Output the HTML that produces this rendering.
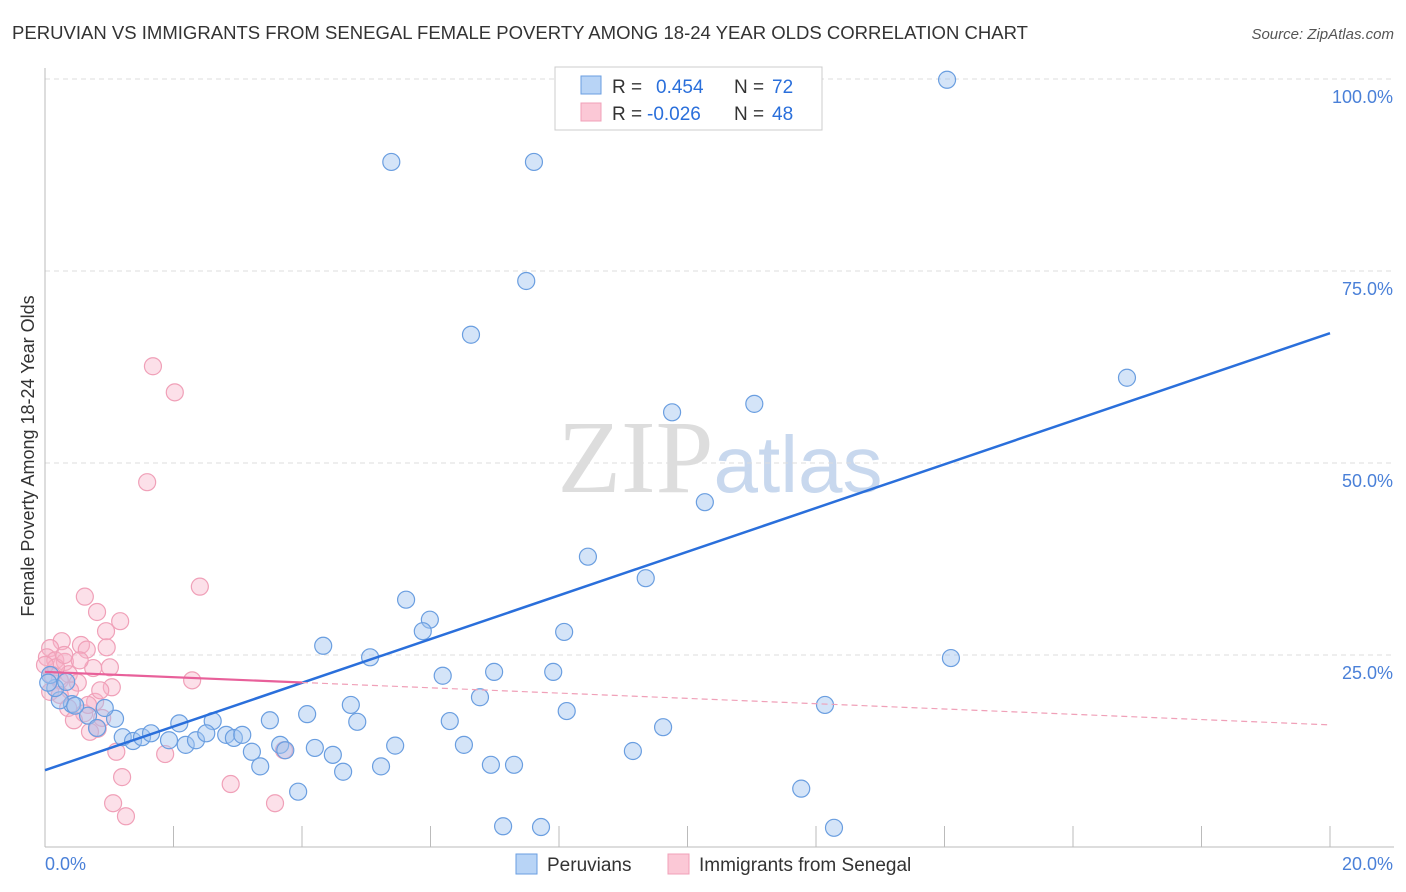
<!DOCTYPE html>
<html><head><meta charset="utf-8">
<style>
body{margin:0;background:#fff;font-family:"Liberation Sans",sans-serif;}
svg{display:block}
</style></head>
<body>
<svg id="chart" width="1406" height="892">
<text x="12" y="39" font-size="18" fill="#333" textLength="1016" lengthAdjust="spacingAndGlyphs">PERUVIAN VS IMMIGRANTS FROM SENEGAL FEMALE POVERTY AMONG 18-24 YEAR OLDS CORRELATION CHART</text>
<text x="1394" y="39" font-size="15" fill="#555" font-style="italic" text-anchor="end">Source: ZipAtlas.com</text>
<text x="720" y="492" font-size="104" fill="#ddd" text-anchor="middle" font-family="Liberation Serif,serif">ZIP<tspan fill="#c8d8ee" font-family="Liberation Sans,sans-serif" font-size="80">atlas</tspan></text>
<text transform="translate(34,456) rotate(-90)" font-size="18" fill="#333" text-anchor="middle">Female Poverty Among 18-24 Year Olds</text>
<g id="grid"></g><g id="marks"></g>
<g>
<rect x="555" y="67" width="267" height="63" fill="#fff" stroke="#ccc"/>
<rect x="581" y="76" width="20" height="18" fill="#b8d4f6" stroke="#6a9ee0"/>
<text x="612" y="93" font-size="19" fill="#333">R = <tspan x="656" fill="#2a6fdb">0.454</tspan><tspan x="734" fill="#333">N = </tspan><tspan x="772" fill="#2a6fdb">72</tspan></text>
<rect x="581" y="103" width="20" height="18" fill="#fbc8d6" stroke="#f0a0b8"/>
<text x="612" y="120" font-size="19" fill="#333">R = <tspan x="647" fill="#2a6fdb">-0.026</tspan><tspan x="734" fill="#333">N = </tspan><tspan x="772" fill="#2a6fdb">48</tspan></text>
</g>
<g>
<rect x="516" y="854" width="21" height="20" fill="#b8d4f6" stroke="#6a9ee0"/>
<text x="547" y="871" font-size="19" fill="#333">Peruvians</text>
<rect x="668" y="854" width="21" height="20" fill="#fbc8d6" stroke="#f0a0b8"/>
<text x="699" y="871" font-size="19" fill="#333">Immigrants from Senegal</text>
</g>
<text x="45" y="870" font-size="18" fill="#4a80d8">0.0%</text>
<text x="1393" y="870" font-size="18" fill="#4a80d8" text-anchor="end">20.0%</text>
</svg>
<script>
const yTicks=[25,50,75,100];
const yTickLabels=["25.0%","50.0%","75.0%","100.0%"];
const xTicks=[0,2,4,6,8,10,12,14,16,18,20];
const blueX=[14.04,5.39,7.61,7.49,6.63,16.84,9.76,11.04,10.27,8.45,9.35,5.62,5.99,5.88,8.08,4.33,14.10,5.06,6.19,6.99,7.91,6.77,4.76,8.12,12.14,4.08,4.86,6.30,9.62,3.50,2.61,2.09,1.09,0.93,0.42,0.23,0.16,0.33,0.08,0.67,0.81,1.21,1.37,1.51,1.65,1.93,2.19,2.35,2.51,2.82,2.94,3.07,3.22,3.35,3.66,3.74,4.20,4.48,4.64,5.23,5.45,6.52,6.94,7.30,9.15,3.94,11.77,7.13,7.72,12.28,0.05,0.47];
const blueY=[99.9,89.2,89.2,73.7,66.7,61.1,56.6,57.7,44.9,37.8,35.0,32.2,29.6,28.1,28.0,26.2,24.6,24.7,22.3,22.8,22.8,19.5,18.5,17.7,18.5,17.3,16.3,16.4,15.6,16.5,16.4,16.1,16.7,18.1,18.6,19.1,20.7,21.5,22.4,17.1,15.5,14.3,13.8,14.3,14.8,13.9,13.3,13.9,14.8,14.6,14.2,14.6,12.4,10.5,13.3,12.6,12.9,12.0,9.8,10.5,13.2,13.3,10.7,10.7,12.5,7.2,7.6,2.7,2.6,2.5,21.4,18.4];
const pinkX=[1.68,2.02,1.59,2.41,0.62,0.81,1.17,0.95,0.26,0.56,0.96,0.65,0.08,0.03,0.16,0.31,1.01,0.75,0.37,0.51,0.23,1.04,2.29,0.08,0.78,0.36,0.61,0.82,0.70,0.45,1.11,1.87,1.20,2.89,1.06,1.26,3.58,3.72,0.17,0.11,0.39,0.67,0.89,0.23,0.0,0.54,0.86,0.30];
const pinkY=[62.6,59.2,47.5,33.9,32.6,30.6,29.4,28.1,26.8,26.3,26.0,25.7,25.9,24.7,24.3,24.1,23.4,23.3,22.5,21.4,21.7,20.8,21.7,20.2,18.9,18.1,17.4,15.4,15.0,16.5,12.4,12.1,9.1,8.2,5.7,4.0,5.7,12.6,23.4,22.4,20.4,18.5,16.8,19.8,23.7,24.3,20.4,25.0];
const blueTrend=[10.0,66.9];
const pinkTrend=[22.8,15.9];
const pinkSolidEnd=4;

const NS="http://www.w3.org/2000/svg";
const X0=45,X1=1330,Y0=847,Y100=79;
function sx(v){return X0+(X1-X0)*v/20;}
function sy(v){return Y0-(Y0-Y100)*v/100;}
function mk(tag,attrs,parent){const e=document.createElementNS(NS,tag);for(const k in attrs)e.setAttribute(k,attrs[k]);parent.appendChild(e);return e;}
const grid=document.getElementById('grid'),marks=document.getElementById('marks');
yTicks.forEach((t,i)=>{
 const l=mk('line',{x1:X0,x2:1394,y1:sy(t),y2:sy(t),stroke:'#ddd','stroke-dasharray':'5,4'},grid);
 
 
 const tx=mk('text',{x:1393,y:sy(t)+24,'font-size':18,fill:'#4a80d8','text-anchor':'end'},grid);
 tx.textContent=yTickLabels[i];
 
 
});
const ya=mk('line',{x1:X0,x2:X0,y1:68,y2:Y0,stroke:'#bbb'},grid);


const xa=mk('line',{x1:X0,x2:1394,y1:Y0,y2:Y0,stroke:'#bbb'},grid);


xTicks.forEach(t=>{
 const l=mk('line',{x1:sx(t),x2:sx(t),y1:826,y2:Y0,stroke:'#bbb'},grid);
 
 
});
pinkX.forEach((x,i)=>{
 const c=mk('circle',{cx:sx(x),cy:sy(pinkY[i]),r:8.5,fill:'rgba(248,178,200,0.4)',stroke:'#f0a0b8','stroke-width':1.2},marks);
 
 
});
blueX.forEach((x,i)=>{
 const c=mk('circle',{cx:sx(x),cy:sy(blueY[i]),r:8.5,fill:'rgba(160,196,240,0.45)',stroke:'#6a9ee0','stroke-width':1.2},marks);
 
 
});
const bt=mk('line',{x1:sx(0),y1:sy(blueTrend[0]),x2:sx(20),y2:sy(blueTrend[1]),stroke:'#2a6fdb','stroke-width':2.5},marks);


const pm=pinkTrend[0]+(pinkTrend[1]-pinkTrend[0])*pinkSolidEnd/20;
const ps=mk('line',{x1:sx(0),y1:sy(pinkTrend[0]),x2:sx(pinkSolidEnd),y2:sy(pm),stroke:'#e8609a','stroke-width':2.2},marks);


const pd=mk('line',{x1:sx(pinkSolidEnd),y1:sy(pm),x2:sx(20),y2:sy(pinkTrend[1]),stroke:'#f0a0b8','stroke-width':1.2,'stroke-dasharray':'6,4'},marks);


</script>
</body></html>
